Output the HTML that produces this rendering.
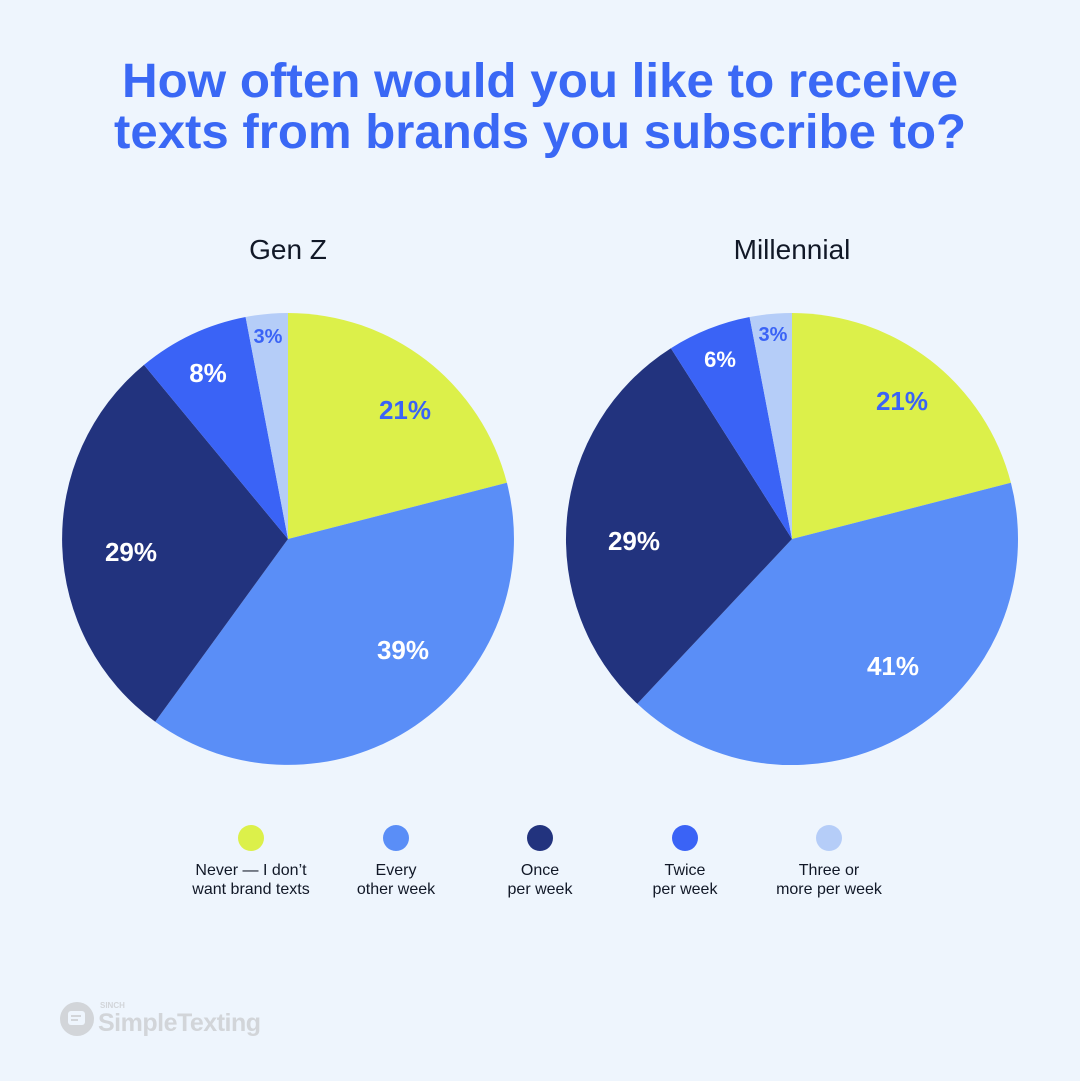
<!DOCTYPE html>
<html><head><style>
body{margin:0;background:#eef5fd;}
svg{display:block}
</style></head><body>
<svg width="1080" height="1081" viewBox="0 0 1080 1081" xmlns="http://www.w3.org/2000/svg" font-family="Liberation Sans, sans-serif">
<rect width="1080" height="1081" fill="#eef5fd"/>
<g font-weight="bold" font-size="48" fill="#3a68f5" text-anchor="middle">
<text x="540" y="97" textLength="836" lengthAdjust="spacingAndGlyphs">How often would you like to receive</text>
<text x="540" y="148" textLength="852" lengthAdjust="spacingAndGlyphs">texts from brands you subscribe to?</text>
</g>
<g font-size="28" fill="#111827" text-anchor="middle">
<text x="288" y="259">Gen Z</text>
<text x="792" y="259">Millennial</text>
</g>
<g>
<path d="M288,539 L288,313 A226,226 0 0 1 506.9,482.8 Z" fill="#dcf04a"/>
<path d="M288,539 L506.9,482.8 A226,226 0 0 1 155.2,721.8 Z" fill="#5a8ef7"/>
<path d="M288,539 L155.2,721.8 A226,226 0 0 1 144.0,364.9 Z" fill="#22337e"/>
<path d="M288,539 L144.0,364.9 A226,226 0 0 1 245.6,317.0 Z" fill="#3a63f6"/>
<path d="M288,539 L245.6,317.0 A226,226 0 0 1 288,313 Z" fill="#b5cdf8"/>
</g>
<g>
<path d="M792,539 L792,313 A226,226 0 0 1 1010.9,482.8 Z" fill="#dcf04a"/>
<path d="M792,539 L1010.9,482.8 A226,226 0 0 1 637.3,703.8 Z" fill="#5a8ef7"/>
<path d="M792,539 L637.3,703.8 A226,226 0 0 1 670.9,348.2 Z" fill="#22337e"/>
<path d="M792,539 L670.9,348.2 A226,226 0 0 1 749.6,317.0 Z" fill="#3a63f6"/>
<path d="M792,539 L749.6,317.0 A226,226 0 0 1 792,313 Z" fill="#b5cdf8"/>
</g>
<g font-weight="bold" text-anchor="middle" font-size="26">
<text x="405" y="419" fill="#3a63f6">21%</text>
<text x="403" y="659" fill="#fff">39%</text>
<text x="131" y="561" fill="#fff">29%</text>
<text x="208" y="382" fill="#fff">8%</text>
<text x="268" y="343" fill="#3a63f6" font-size="20">3%</text>
<text x="902" y="410" fill="#3a63f6">21%</text>
<text x="893" y="675" fill="#fff">41%</text>
<text x="634" y="550" fill="#fff">29%</text>
<text x="720" y="367" fill="#fff" font-size="22">6%</text>
<text x="773" y="341" fill="#3a63f6" font-size="20">3%</text>
</g>
<g>
<circle cx="251" cy="838" r="13" fill="#dcf04a"/>
<circle cx="396" cy="838" r="13" fill="#5a8ef7"/>
<circle cx="540" cy="838" r="13" fill="#22337e"/>
<circle cx="685" cy="838" r="13" fill="#3a63f6"/>
<circle cx="829" cy="838" r="13" fill="#b5cdf8"/>
</g>
<g font-size="16" fill="#111827" text-anchor="middle">
<text x="251" y="875">Never — I don’t</text><text x="251" y="894">want brand texts</text>
<text x="396" y="875">Every</text><text x="396" y="894">other week</text>
<text x="540" y="875">Once</text><text x="540" y="894">per week</text>
<text x="685" y="875">Twice</text><text x="685" y="894">per week</text>
<text x="829" y="875">Three or</text><text x="829" y="894">more per week</text>
</g>
<g fill="#d2d5d9">
<circle cx="77" cy="1019" r="17"/>
<rect x="68" y="1011" width="17" height="14" rx="3" fill="#eef5fd"/>
<rect x="71" y="1015" width="10" height="2" fill="#d2d5d9"/>
<rect x="71" y="1019" width="7" height="2" fill="#d2d5d9"/>
<text x="100" y="1008" font-size="8" font-weight="bold">SINCH</text>
<text x="98" y="1031" font-size="25" font-weight="bold" letter-spacing="-0.5">SimpleTexting</text>
</g>
</svg>
</body></html>
